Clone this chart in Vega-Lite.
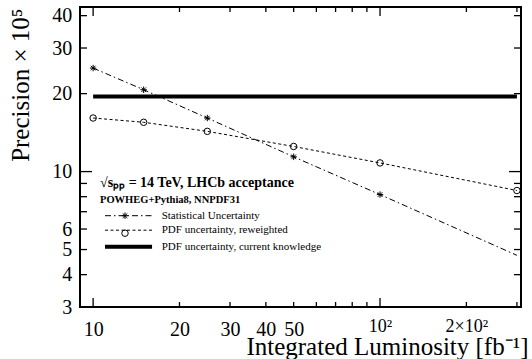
{
  "$schema": "https://vega.github.io/schema/vega-lite/v6.json",
  "width": 441,
  "height": 300,
  "autosize": "none",
  "padding": {"left": 80, "top": 7, "right": 11, "bottom": 52},
  "background": "white",
  "config": {
    "view": {"stroke": "black", "strokeWidth": 2, "fill": null},
    "font": "Liberation Serif",
    "tick": {"color": "black", "thickness": 1.3, "opacity": 1},
    "axis": {
      "domain": false,
      "ticks": false,
      "grid": false,
      "labelFont": "Liberation Serif",
      "labelFontSize": 20,
      "labelColor": "black",
      "labelOverlap": false,
      "labelFlush": false,
      "labelBound": false,
      "titleFont": "Liberation Serif",
      "titleFontSize": 25,
      "titleFontWeight": "normal",
      "titleColor": "black"
    }
  },
  "title": {
    "text": "√sₚₚ = 14 TeV, LHCb acceptance",
    "subtitle": "POWHEG+Pythia8, NNPDF31",
    "anchor": "start",
    "frame": "group",
    "orient": "top",
    "font": "Liberation Serif",
    "fontSize": 14,
    "fontWeight": "bold",
    "color": "black",
    "subtitleFont": "Liberation Serif",
    "subtitleFontSize": 10.5,
    "subtitleFontWeight": "bold",
    "subtitleColor": "black",
    "subtitlePadding": 5,
    "dx": 20,
    "dy": 204
  },
  "datasets": {
    "curves": [
      {"series": "Statistical Uncertainty", "lumi": 10, "precision": 25.1},
      {"series": "Statistical Uncertainty", "lumi": 15, "precision": 20.7},
      {"series": "Statistical Uncertainty", "lumi": 25, "precision": 16.1},
      {"series": "Statistical Uncertainty", "lumi": 50, "precision": 11.4},
      {"series": "Statistical Uncertainty", "lumi": 100, "precision": 8.15},
      {"series": "Statistical Uncertainty", "lumi": 300, "precision": 4.75},
      {"series": "PDF uncertainty, reweighted", "lumi": 10, "precision": 16.1},
      {"series": "PDF uncertainty, reweighted", "lumi": 15, "precision": 15.5},
      {"series": "PDF uncertainty, reweighted", "lumi": 25, "precision": 14.3},
      {"series": "PDF uncertainty, reweighted", "lumi": 50, "precision": 12.5},
      {"series": "PDF uncertainty, reweighted", "lumi": 100, "precision": 10.8},
      {"series": "PDF uncertainty, reweighted", "lumi": 300, "precision": 8.45},
      {"series": "PDF uncertainty, current knowledge", "lumi": 10, "precision": 19.5},
      {"series": "PDF uncertainty, current knowledge", "lumi": 300, "precision": 19.5}
    ],
    "lumiTicks": [
      {"lumi": 10, "major": true}, {"lumi": 20, "major": false}, {"lumi": 30, "major": false},
      {"lumi": 40, "major": false}, {"lumi": 50, "major": false}, {"lumi": 60, "major": false},
      {"lumi": 70, "major": false}, {"lumi": 80, "major": false}, {"lumi": 90, "major": false},
      {"lumi": 100, "major": true}, {"lumi": 200, "major": false}, {"lumi": 300, "major": false}
    ],
    "precisionTicks": [
      {"precision": 4, "major": false}, {"precision": 5, "major": false},
      {"precision": 6, "major": false}, {"precision": 7, "major": false}, {"precision": 8, "major": false},
      {"precision": 9, "major": false}, {"precision": 10, "major": true}, {"precision": 20, "major": false},
      {"precision": 30, "major": false}, {"precision": 40, "major": false}
    ]
  },
  "data": {"name": "curves"},
  "layer": [
    {
      "transform": [{"filter": "datum.series !== 'PDF uncertainty, current knowledge'"}],
      "mark": {"type": "line", "color": "black", "strokeWidth": 1, "clip": true},
      "encoding": {
        "x": {
          "field": "lumi", "type": "quantitative",
          "scale": {"type": "log", "domain": [9, 310], "nice": false},
          "axis": {
            "orient": "bottom",
            "values": [10, 20, 30, 40, 50],
            "labelExpr": "format(datum.value, 'd')",
            "labelBaseline": "alphabetic",
            "labelPadding": 28.5,
            "title": "Integrated Luminosity [fb⁻¹]",
            "titleX": 448,
            "titleY": 47.5,
            "titleAlign": "right",
            "titleBaseline": "alphabetic",
            "titleAngle": 0
          }
        },
        "y": {
          "field": "precision", "type": "quantitative",
          "scale": {"type": "log", "domain": [3, 43.2], "nice": false},
          "axis": {
            "orient": "left",
            "values": [3, 4, 5, 6, 10, 20, 30, 40],
            "labelExpr": "format(datum.value, 'd')",
            "labelPadding": 8.3,
            "title": "Precision × 10⁵",
            "titleX": -52,
            "titleY": 1,
            "titleAngle": 270,
            "titleAlign": "right",
            "titleBaseline": "alphabetic"
          }
        },
        "detail": {"field": "series"},
        "strokeDash": {
          "field": "series", "type": "nominal",
          "scale": {
            "domain": ["Statistical Uncertainty", "PDF uncertainty, reweighted", "PDF uncertainty, current knowledge"],
            "range": [[6, 3, 1.5, 3], [3, 2.5], [1, 0]]
          },
          "legend": {
            "orient": "none", "legendX": 19.5, "legendY": 203.2, "title": null,
            "symbolType": "M0,0H16", "symbolSize": 34.6, "symbolStrokeColor": "black",
            "labelFont": "Liberation Serif", "labelFontSize": 11, "labelColor": "black",
            "rowPadding": 2.5, "labelOffset": 51.2, "padding": 0,
            "encode": {"symbols": {"update": {
              "size": {"value": 34.6},
              "strokeWidth": {"signal": "datum.value === 'PDF uncertainty, current knowledge' ? 4 : 1"}
            }}}
          }
        }
      }
    },
    {
      "transform": [{"filter": "datum.series === 'PDF uncertainty, current knowledge'"}],
      "mark": {"type": "line", "color": "black", "strokeWidth": 4, "clip": true},
      "encoding": {
        "x": {
          "field": "lumi", "type": "quantitative",
          "axis": {
            "orient": "bottom",
            "values": [100, 200],
            "labelExpr": "datum.value == 100 ? '10²' : '2×10²'",
            "labelBaseline": "alphabetic",
            "labelFontSize": 18,
            "labelPadding": 24,
            "title": null
          }
        },
        "y": {"field": "precision", "type": "quantitative", "axis": null},
        "strokeDash": {
          "field": "series", "type": "nominal",
          "legend": {
            "orient": "none", "legendX": 19.5, "legendY": 203.2, "title": null,
            "symbolType": "M0,0H16", "symbolSize": 34.6, "symbolStrokeColor": "black",
            "labelFont": "Liberation Serif", "labelFontSize": 11, "labelColor": "black",
            "rowPadding": 2.5, "labelOffset": 51.2, "padding": 0,
            "encode": {"symbols": {"update": {
              "size": {"value": 34.6},
              "strokeWidth": {"signal": "datum.value === 'PDF uncertainty, current knowledge' ? 4 : 1"}
            }}}
          }
        }
      }
    },
    {
      "transform": [{"filter": "datum.series === 'Statistical Uncertainty' && datum.lumi < 300"}],
      "mark": {"type": "point", "filled": false, "color": "black", "size": 42, "strokeWidth": 1, "opacity": 1, "clip": true},
      "encoding": {
        "x": {"field": "lumi", "type": "quantitative", "axis": null},
        "y": {"field": "precision", "type": "quantitative", "axis": null},
        "shape": {
          "field": "series", "type": "nominal",
          "scale": {
            "domain": ["Statistical Uncertainty", "PDF uncertainty, reweighted"],
            "range": ["M-1,0L1,0M0,-1L0,1M-0.7,-0.7L0.7,0.7M-0.7,0.7L0.7,-0.7", "circle"]
          },
          "legend": {
            "orient": "none", "legendX": 41, "legendY": 204.7, "title": null,
            "symbolSize": 42, "symbolStrokeColor": "black", "symbolStrokeWidth": 1,
            "labelExpr": "''", "labelFontSize": 1,
            "rowPadding": 5.5, "padding": 0
          }
        }
      }
    },
    {
      "transform": [{"filter": "datum.series === 'PDF uncertainty, reweighted'"}],
      "mark": {"type": "point", "filled": false, "color": "black", "size": 42, "strokeWidth": 1, "opacity": 1, "clip": true},
      "encoding": {
        "x": {"field": "lumi", "type": "quantitative", "axis": null},
        "y": {"field": "precision", "type": "quantitative", "axis": null},
        "shape": {
          "field": "series", "type": "nominal",
          "legend": {
            "orient": "none", "legendX": 41, "legendY": 204.7, "title": null,
            "symbolSize": 42, "symbolStrokeColor": "black", "symbolStrokeWidth": 1,
            "labelExpr": "''", "labelFontSize": 1,
            "rowPadding": 5.5, "padding": 0
          }
        }
      }
    },
    {
      "data": {"name": "lumiTicks"},
      "transform": [{"filter": "!datum.major"}],
      "mark": {"type": "tick", "orient": "vertical", "yOffset": -2.5},
      "encoding": {
        "x": {"field": "lumi", "type": "quantitative", "axis": null},
        "y": {"datum": 3, "type": "quantitative", "axis": null},
        "size": {"value": 5}
      }
    },
    {
      "data": {"name": "lumiTicks"},
      "transform": [{"filter": "datum.major"}],
      "mark": {"type": "tick", "orient": "vertical", "yOffset": -4.5},
      "encoding": {
        "x": {"field": "lumi", "type": "quantitative", "axis": null},
        "y": {"datum": 3, "type": "quantitative", "axis": null},
        "size": {"value": 9}
      }
    },
    {
      "data": {"name": "lumiTicks"},
      "transform": [{"filter": "!datum.major"}],
      "mark": {"type": "tick", "orient": "vertical", "yOffset": 2.5},
      "encoding": {
        "x": {"field": "lumi", "type": "quantitative", "axis": null},
        "y": {"datum": 43.2, "type": "quantitative", "axis": null},
        "size": {"value": 5}
      }
    },
    {
      "data": {"name": "lumiTicks"},
      "transform": [{"filter": "datum.major"}],
      "mark": {"type": "tick", "orient": "vertical", "yOffset": 4.5},
      "encoding": {
        "x": {"field": "lumi", "type": "quantitative", "axis": null},
        "y": {"datum": 43.2, "type": "quantitative", "axis": null},
        "size": {"value": 9}
      }
    },
    {
      "data": {"name": "precisionTicks"},
      "transform": [{"filter": "!datum.major"}],
      "mark": {"type": "tick", "orient": "horizontal", "xOffset": 3.5},
      "encoding": {
        "y": {"field": "precision", "type": "quantitative", "axis": null},
        "x": {"datum": 9, "type": "quantitative", "axis": null},
        "size": {"value": 7}
      }
    },
    {
      "data": {"name": "precisionTicks"},
      "transform": [{"filter": "datum.major"}],
      "mark": {"type": "tick", "orient": "horizontal", "xOffset": 6},
      "encoding": {
        "y": {"field": "precision", "type": "quantitative", "axis": null},
        "x": {"datum": 9, "type": "quantitative", "axis": null},
        "size": {"value": 12}
      }
    },
    {
      "data": {"name": "precisionTicks"},
      "transform": [{"filter": "!datum.major"}],
      "mark": {"type": "tick", "orient": "horizontal", "xOffset": -3.5},
      "encoding": {
        "y": {"field": "precision", "type": "quantitative", "axis": null},
        "x": {"datum": 310, "type": "quantitative", "axis": null},
        "size": {"value": 7}
      }
    },
    {
      "data": {"name": "precisionTicks"},
      "transform": [{"filter": "datum.major"}],
      "mark": {"type": "tick", "orient": "horizontal", "xOffset": -6},
      "encoding": {
        "y": {"field": "precision", "type": "quantitative", "axis": null},
        "x": {"datum": 310, "type": "quantitative", "axis": null},
        "size": {"value": 12}
      }
    }
  ],
  "resolve": {"axis": {"x": "independent", "y": "independent"}}
}
